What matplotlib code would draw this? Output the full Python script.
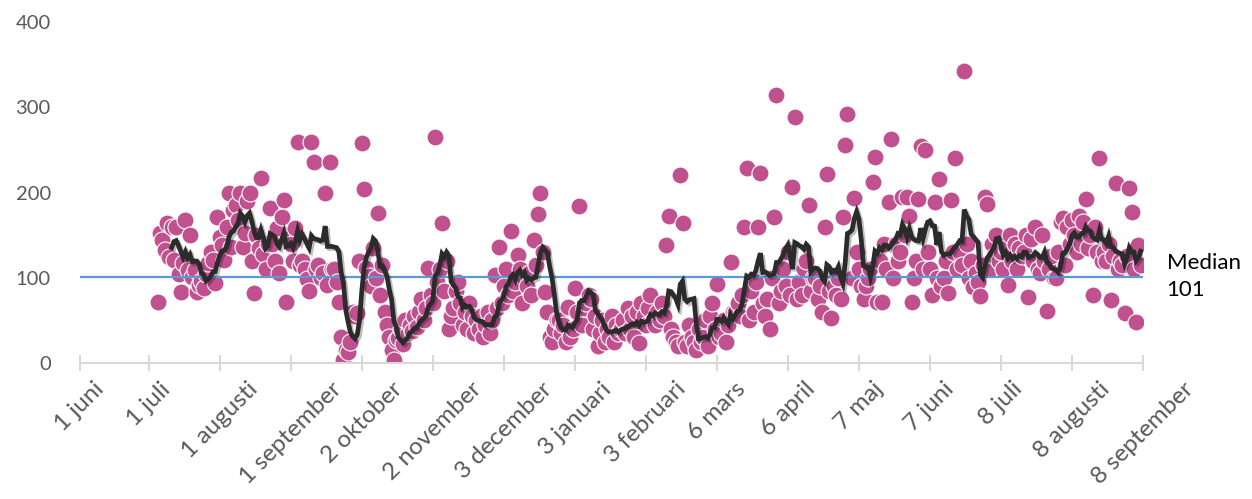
import matplotlib
matplotlib.use("Agg")
import matplotlib.pyplot as plt
import matplotlib.patheffects as pe
import pandas as pd

plt.rcParams["font.family"] = ["Lato", "DejaVu Sans"]

# daily values, one week per row, starting 5 July 2022
start_date = "2022-07-05"
daily_counts = [
    71, 152, 144, 132, 164, 124, 160,
    121, 160, 104, 83, 117, 168, 109,
    150, 101, 109, 83, 92, 96, 88,
    104, 117, 130, 121, 94, 171, 148,
    138, 121, 160, 200, 136, 179, 185,
    168, 200, 136, 152, 190, 200, 120,
    82, 150, 135, 217, 128, 110, 140,
    182, 140, 120, 158, 105, 171, 191,
    72, 145, 140, 120, 158, 259, 115,
    120, 110, 98, 84, 259, 236, 110,
    115, 100, 105, 199, 92, 236, 110,
    110, 95, 72, 30, 4, 15, 13,
    25, 60, 55, 59, 120, 258, 204,
    112, 102, 90, 135, 100, 176, 80,
    115, 60, 45, 30, 15, 4, 27,
    29, 40, 22, 50, 35, 45, 38,
    55, 42, 60, 75, 50, 65, 111,
    80, 70, 265, 95, 110, 164, 85,
    120, 40, 55, 65, 85, 95, 70,
    45, 60, 40, 70, 55, 35, 50,
    40, 55, 30, 45, 60, 35, 50,
    103, 65, 136, 70, 90, 110, 80,
    155, 85, 95, 127, 110, 70, 100,
    90, 105, 80, 144, 115, 175, 200,
    130, 83, 60, 30, 25, 40, 50,
    50, 35, 45, 25, 66, 30, 40,
    88, 60, 184, 45, 65, 70, 80,
    75, 40, 55, 20, 35, 50, 25,
    40, 30, 55, 25, 45, 35, 40,
    50, 35, 65, 40, 55, 30, 60,
    23, 70, 55, 45, 65, 80, 50,
    45, 60, 50, 70, 55, 138, 173,
    40, 30, 25, 20, 220, 164, 25,
    20, 45, 30, 25, 15, 40, 25,
    30, 50, 20, 55, 70, 40, 93,
    30, 35, 50, 25, 45, 118, 60,
    60, 70, 55, 80, 160, 229, 50,
    85, 60, 95, 160, 223, 70, 55,
    75, 40, 100, 171, 314, 70, 85,
    110, 90, 130, 80, 206, 288, 75,
    95, 80, 110, 120, 185, 85, 100,
    100, 75, 90, 60, 160, 222, 85,
    53, 90, 80, 100, 75, 171, 256,
    292, 100, 100, 193, 130, 110, 90,
    75, 90, 100, 110, 212, 242, 72,
    120, 72, 140, 110, 189, 263, 100,
    140, 120, 130, 195, 150, 195, 173,
    72, 100, 120, 192, 255, 110, 250,
    130, 110, 80, 189, 100, 216, 90,
    100, 120, 82, 191, 130, 241, 110,
    130, 115, 343, 140, 100, 120, 89,
    105, 95, 79, 115, 195, 186, 110,
    140, 125, 150, 120, 130, 110, 135,
    91, 150, 120, 140, 110, 135, 125,
    130, 150, 77, 145, 120, 160, 110,
    105, 150, 120, 61, 110, 125, 100,
    100, 130, 165, 170, 115, 160, 140,
    168, 150, 130, 172, 140, 165, 192,
    135, 150, 80, 160, 130, 241, 120,
    130, 120, 140, 74, 125, 211, 110,
    120, 115, 59, 125, 205, 177, 110,
    48, 138, 115,
]
median_value = 101
window = 7

tick_dates = [
    "2022-06-01", "2022-07-01", "2022-08-01", "2022-09-01", "2022-10-02",
    "2022-11-02", "2022-12-03", "2023-01-03", "2023-02-03", "2023-03-06",
    "2023-04-06", "2023-05-07", "2023-06-07", "2023-07-08", "2023-08-08",
    "2023-09-08",
]
tick_labels = [
    "1 juni", "1 juli", "1 augusti", "1 september", "2 oktober",
    "2 november", "3 december", "3 januari", "3 februari", "6 mars",
    "6 april", "7 maj", "7 juni", "8 juli", "8 augusti", "8 september",
]

dates = pd.date_range(start_date, periods=len(daily_counts), freq="D")
series = pd.Series(daily_counts, index=dates, dtype=float)
moving_avg = series.rolling(window).mean()

fig = plt.figure(figsize=(12.52, 4.99), dpi=100)
ax = fig.add_axes([80 / 1252, 1 - 363 / 499, (1143 - 80) / 1252, 341 / 499])

ax.scatter(dates, series.values, s=150, color="#c0508e", edgecolor="white",
           linewidth=0.8, zorder=2)
ax.axhline(median_value, color="#5b9bd5", linewidth=1.6, zorder=3)
ax.plot(moving_avg.index, moving_avg.values, color="#2b2b2b", linewidth=3.4,
        zorder=4, solid_joinstyle="miter",
        path_effects=[pe.SimpleLineShadow(offset=(1.5, -1.5), shadow_color="black", alpha=0.25),
                      pe.Normal()])

ax.annotate(f"Median\n{median_value}", xy=(1, median_value),
            xycoords=("axes fraction", "data"), xytext=(17, 0),
            textcoords="offset points", ha="left", va="center",
            fontsize=16, linespacing=1.45, color="black")

ax.set_ylim(0, 400)
ax.set_yticks([0, 100, 200, 300, 400])
ax.set_xlim(pd.Timestamp(tick_dates[0]), pd.Timestamp(tick_dates[-1]))
ax.set_xticks([pd.Timestamp(d) for d in tick_dates])
ax.set_xticklabels(tick_labels, rotation=45, ha="center", va="top")

for side in ("top", "right", "left"):
    ax.spines[side].set_visible(False)
ax.spines["bottom"].set_color("#d9d9d9")
ax.spines["bottom"].set_linewidth(1.5)

ax.tick_params(axis="y", length=0, pad=21, labelsize=14.5, labelcolor="#595959")
ax.tick_params(axis="x", direction="inout", length=12, width=1.5, color="#d9d9d9",
               pad=5, labelsize=17.5, labelcolor="#595959")

fig.savefig("out.png", dpi=100)
